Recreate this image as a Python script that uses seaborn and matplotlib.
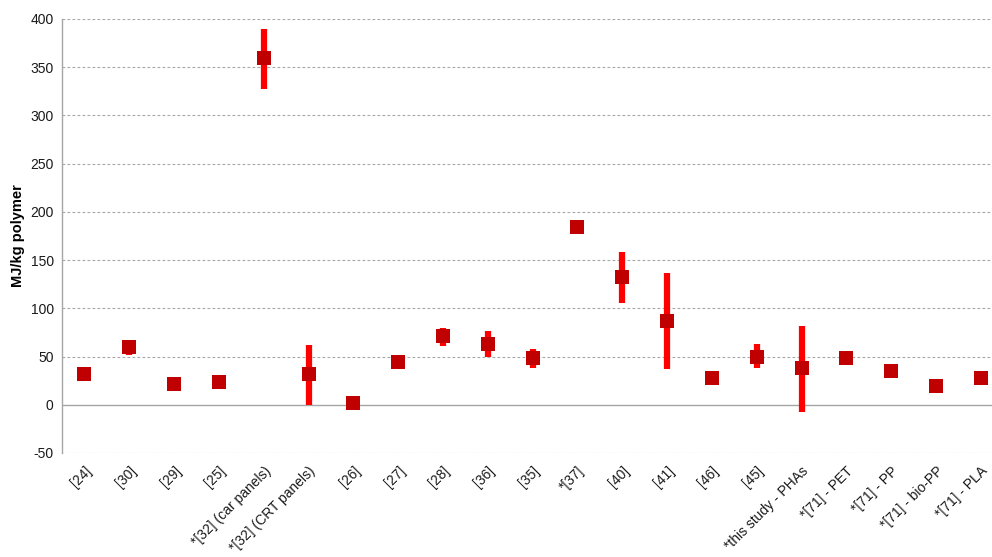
import numpy as np
import pandas as pd
import matplotlib
matplotlib.use("Agg")
import matplotlib.pyplot as plt
import seaborn as sns

# Energy demand per reference (MJ/kg polymer) with reported ranges
categories = ["[24]", "[30]", "[29]", "[25]", "*[32] (car panels)", "*[32] (CRT panels)",
              "[26]", "[27]", "[28]", "[36]", "[35]", "*[37]", "[40]", "[41]", "[46]",
              "[45]", "*this study - PHAs", "*[71] - PET", "*[71] - PP", "*[71] - bio-PP",
              "*[71] - PLA"]
values = [32, 60, 22, 24, 360, 32, 2, 44, 71, 63, 48, 184, 132, 87, 28, 50, 38, 48, 35, 19, 28]
range_low = [np.nan, 52, np.nan, np.nan, 327, 0, np.nan, np.nan, 61, 50, 38, np.nan,
             106, 37, np.nan, 38, -8, np.nan, np.nan, np.nan, np.nan]
range_high = [np.nan, 67, np.nan, np.nan, 390, 62, np.nan, np.nan, 80, 76, 58, np.nan,
              158, 137, np.nan, 63, 82, np.nan, np.nan, np.nan, np.nan]
y_ticks = [-50, 0, 50, 100, 150, 200, 250, 300, 350, 400]

df = pd.DataFrame({"ref": categories, "energy": values,
                   "low": range_low, "high": range_high})
df["pos"] = np.arange(len(df))

sns.set_theme(style="white")
plt.rcParams["font.family"] = ["Liberation Sans", "DejaVu Sans"]
plt.rcParams["axes.unicode_minus"] = False

fig = plt.figure(figsize=(9.92, 5.57), dpi=100)
ax = fig.add_axes([62 / 992, 1 - 453 / 557, (992 - 62) / 992, (453 - 19) / 557])

# range bars
ranged = df.dropna(subset=["low", "high"])
ax.vlines(ranged["pos"], ranged["low"], ranged["high"], color="#FF0000",
          linewidth=4.5, zorder=3)

sns.scatterplot(data=df, x="pos", y="energy", marker="s", s=90, color="#C00000",
                edgecolor="#C00000", linewidth=0, ax=ax, zorder=4, legend=False)

ax.set_xlim(-0.5, 20.25)
ax.set_ylim(-50, 400)
ax.set_yticks(y_ticks)
ax.set_xticks(df["pos"])
ax.set_xticklabels(df["ref"], rotation=45, ha="right", rotation_mode="anchor",
                   fontsize=10, color="#1a1a1a")
ax.tick_params(axis="y", labelsize=10, colors="#1a1a1a", length=0, pad=6)
ax.tick_params(axis="x", length=0, pad=8)
ax.set_xlabel("")
ax.set_ylabel("MJ/kg polymer", fontsize=10.5, fontweight="bold", color="#000000",
              labelpad=4)

for t in y_ticks:
    if t != 0:
        ax.axhline(t, color="#a6a6a6", linewidth=0.8, linestyle=(0, (2.5, 2)), zorder=1)
ax.axhline(0, color="#a6a6a6", linewidth=1.0, zorder=2)

for side in ["top", "right", "bottom"]:
    ax.spines[side].set_visible(False)
ax.spines["left"].set_color("#a6a6a6")
ax.spines["left"].set_linewidth(1.0)

fig.savefig("out.png", dpi=100)
